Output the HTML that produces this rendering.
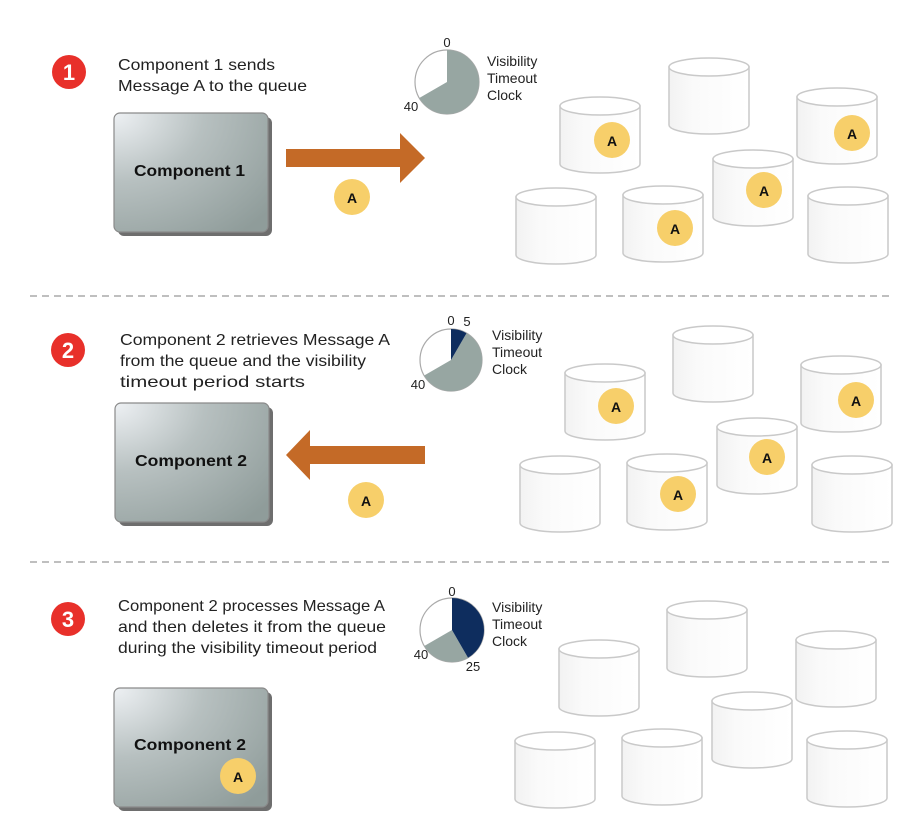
<!DOCTYPE html>
<html><head><meta charset="utf-8"><style>
html,body{margin:0;padding:0;background:#fff;width:918px;height:822px;overflow:hidden}
svg{display:block}
text{font-family:"Liberation Sans",Arial,sans-serif}
</style></head><body>
<svg width="918" height="822" viewBox="0 0 918 822" xmlns="http://www.w3.org/2000/svg">
<defs>
<linearGradient id="cg" x1="0" x2="1" y1="0" y2="0">
<stop offset="0" stop-color="#f2f2f2"/><stop offset="0.3" stop-color="#fafafa"/><stop offset="1" stop-color="#ffffff"/>
</linearGradient>
<radialGradient id="bg" cx="0" cy="0" r="1.3">
<stop offset="0" stop-color="#eef1f4"/><stop offset="0.45" stop-color="#b7c0c0"/><stop offset="1" stop-color="#8f9c9a"/>
</radialGradient>
<g id="cyl">
<path d="M0,9 V67 A40,9 0 0 0 80,67 V9 Z" fill="url(#cg)" stroke="#c9c9c9" stroke-width="1.5"/>
<ellipse cx="40" cy="9" rx="40" ry="9" fill="#fff" stroke="#c9c9c9" stroke-width="1.5"/>
</g>
<g id="box">
<rect x="4" y="4" width="154" height="119" rx="6" fill="#6e6e6e"/>
<rect x="0" y="0" width="154" height="119" rx="6" fill="url(#bg)" stroke="#8a8a8a" stroke-width="1.2"/>
</g>
</defs>

<line x1="30" y1="296" x2="893" y2="296" stroke="#aaa" stroke-width="1.5" stroke-dasharray="7,5"/>
<line x1="30" y1="562" x2="893" y2="562" stroke="#aaa" stroke-width="1.5" stroke-dasharray="7,5"/>

<circle cx="69" cy="72" r="17" fill="#e8302a"/>
<text x="69" y="80" text-anchor="middle" font-size="22" font-weight="bold" fill="#fff">1</text>
<circle cx="68" cy="350" r="17" fill="#e8302a"/>
<text x="68" y="358" text-anchor="middle" font-size="22" font-weight="bold" fill="#fff">2</text>
<circle cx="68" cy="619" r="17" fill="#e8302a"/>
<text x="68" y="627" text-anchor="middle" font-size="22" font-weight="bold" fill="#fff">3</text>

<g font-size="16" fill="#222">
<text x="118" y="70" textLength="157" lengthAdjust="spacingAndGlyphs">Component 1 sends</text>
<text x="118" y="91" textLength="189" lengthAdjust="spacingAndGlyphs">Message A to the queue</text>
<text x="120" y="345" textLength="270" lengthAdjust="spacingAndGlyphs">Component 2 retrieves Message A</text>
<text x="120" y="366" textLength="246" lengthAdjust="spacingAndGlyphs">from the queue and the visibility</text>
<text x="120" y="387" textLength="185" lengthAdjust="spacingAndGlyphs">timeout period starts</text>
<text x="118" y="611" textLength="267" lengthAdjust="spacingAndGlyphs">Component 2 processes Message A</text>
<text x="118" y="632" textLength="268" lengthAdjust="spacingAndGlyphs">and then deletes it from the queue</text>
<text x="118" y="653" textLength="259" lengthAdjust="spacingAndGlyphs">during the visibility timeout period</text>
</g>

<g>
<circle cx="447" cy="82" r="32" fill="#fff" stroke="#aaa" stroke-width="1.2"/>
<path d="M447,82 L447,50 A32,32 0 1 1 419.3,98 Z" fill="#97a6a2"/>
<text x="447" y="47" text-anchor="middle" font-size="13" fill="#222">0</text>
<text x="411" y="111" text-anchor="middle" font-size="13" fill="#222">40</text>
<g font-size="14" fill="#222"><text x="487" y="66">Visibility</text><text x="487" y="83">Timeout</text><text x="487" y="100">Clock</text></g>

<circle cx="451" cy="360" r="31" fill="#fff" stroke="#aaa" stroke-width="1.2"/>
<path d="M451,360 L466.5,333.2 A31,31 0 1 1 424.2,375.5 Z" fill="#97a6a2"/>
<path d="M451,360 L451,329 A31,31 0 0 1 466.5,333.2 Z" fill="#0e2d5e"/>
<text x="451" y="325" text-anchor="middle" font-size="13" fill="#222">0</text>
<text x="467" y="326" text-anchor="middle" font-size="13" fill="#222">5</text>
<text x="418" y="389" text-anchor="middle" font-size="13" fill="#222">40</text>
<g font-size="14" fill="#222"><text x="492" y="340">Visibility</text><text x="492" y="357">Timeout</text><text x="492" y="374">Clock</text></g>

<circle cx="452" cy="630" r="32" fill="#fff" stroke="#aaa" stroke-width="1.2"/>
<path d="M452,630 L468,657.7 A32,32 0 0 1 424.3,646 Z" fill="#97a6a2"/>
<path d="M452,630 L452,598 A32,32 0 0 1 468,657.7 Z" fill="#0e2d5e"/>
<text x="452" y="596" text-anchor="middle" font-size="13" fill="#222">0</text>
<text x="421" y="659" text-anchor="middle" font-size="13" fill="#222">40</text>
<text x="473" y="671" text-anchor="middle" font-size="13" fill="#222">25</text>
<g font-size="14" fill="#222"><text x="492" y="612">Visibility</text><text x="492" y="629">Timeout</text><text x="492" y="646">Clock</text></g>
</g>

<use href="#box" x="114" y="113"/>
<text x="134" y="176" font-size="16" font-weight="bold" fill="#111" textLength="111" lengthAdjust="spacingAndGlyphs">Component 1</text>
<use href="#box" x="115" y="403"/>
<text x="135" y="466" font-size="16" font-weight="bold" fill="#111" textLength="112" lengthAdjust="spacingAndGlyphs">Component 2</text>
<use href="#box" x="114" y="688"/>
<text x="134" y="750" font-size="16" font-weight="bold" fill="#111" textLength="112" lengthAdjust="spacingAndGlyphs">Component 2</text>
<circle cx="238" cy="776" r="18" fill="#f7cf6a"/>
<text x="238" y="782" text-anchor="middle" font-size="14" font-weight="bold" fill="#111">A</text>

<path d="M286,149 H400 V133 L425,158 L400,183 V167 H286 Z" fill="#c46a27"/>
<path d="M425,446 H310 V430 L286,455 L310,480 V464 H425 Z" fill="#c46a27"/>
<circle cx="352" cy="197" r="18" fill="#f7cf6a"/>
<text x="352" y="203" text-anchor="middle" font-size="14" font-weight="bold" fill="#111">A</text>
<circle cx="366" cy="500" r="18" fill="#f7cf6a"/>
<text x="366" y="506" text-anchor="middle" font-size="14" font-weight="bold" fill="#111">A</text>

<use href="#cyl" x="560" y="97"/>
<use href="#cyl" x="669" y="58"/>
<use href="#cyl" x="797" y="88"/>
<use href="#cyl" x="516" y="188"/>
<use href="#cyl" x="623" y="186"/>
<use href="#cyl" x="713" y="150"/>
<use href="#cyl" x="808" y="187"/>
<g font-size="14" font-weight="bold" fill="#111" text-anchor="middle">
<circle cx="612" cy="140" r="18" fill="#f7cf6a"/><text x="612" y="146">A</text>
<circle cx="852" cy="133" r="18" fill="#f7cf6a"/><text x="852" y="139">A</text>
<circle cx="764" cy="190" r="18" fill="#f7cf6a"/><text x="764" y="196">A</text>
<circle cx="675" cy="228" r="18" fill="#f7cf6a"/><text x="675" y="234">A</text>
</g>

<use href="#cyl" x="565" y="364"/>
<use href="#cyl" x="673" y="326"/>
<use href="#cyl" x="801" y="356"/>
<use href="#cyl" x="520" y="456"/>
<use href="#cyl" x="627" y="454"/>
<use href="#cyl" x="717" y="418"/>
<use href="#cyl" x="812" y="456"/>
<g font-size="14" font-weight="bold" fill="#111" text-anchor="middle">
<circle cx="616" cy="406" r="18" fill="#f7cf6a"/><text x="616" y="412">A</text>
<circle cx="856" cy="400" r="18" fill="#f7cf6a"/><text x="856" y="406">A</text>
<circle cx="767" cy="457" r="18" fill="#f7cf6a"/><text x="767" y="463">A</text>
<circle cx="678" cy="494" r="18" fill="#f7cf6a"/><text x="678" y="500">A</text>
</g>

<use href="#cyl" x="559" y="640"/>
<use href="#cyl" x="667" y="601"/>
<use href="#cyl" x="796" y="631"/>
<use href="#cyl" x="515" y="732"/>
<use href="#cyl" x="622" y="729"/>
<use href="#cyl" x="712" y="692"/>
<use href="#cyl" x="807" y="731"/>
</svg>
</body></html>
